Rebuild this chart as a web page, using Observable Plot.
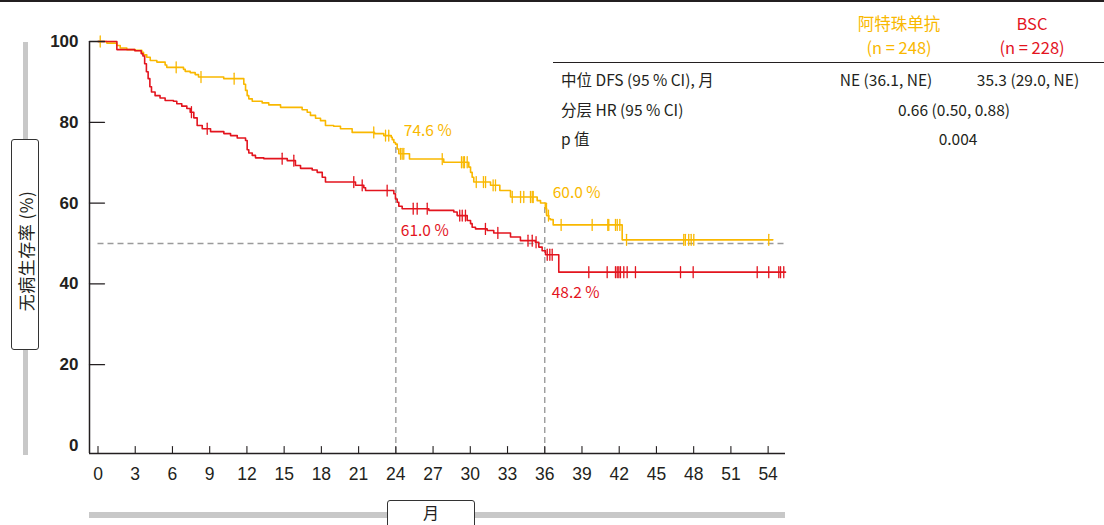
<!DOCTYPE html>
<html>
<head>
<meta charset="utf-8">
<script src="https://cdn.jsdelivr.net/npm/d3@7"></script>
<script src="https://cdn.jsdelivr.net/npm/@observablehq/plot@0.6"></script>
<style>
  body { margin: 0; background: #fff; }
  #wrap { position: relative; width: 1104px; height: 525px; overflow: hidden; font-family: "Noto Sans CJK SC", "Noto Sans", sans-serif; color: #231f20; }
  #wrap svg { position: absolute; left: 0; top: 0; }
  .abs { position: absolute; white-space: nowrap; line-height: 1; }
  .c { transform: translate(-50%, -50%); }
  .l { transform: translate(0, -50%); }
  .topline { left: 0; top: 0; width: 1104px; height: 2px; background: #231f20; }
  .vbar { left: 23px; top: 42px; width: 5px; height: 413px; background: #c8c8c8; }
  .ybox { left: 11px; top: 139px; width: 26px; height: 209px; border: 1px solid #333; border-radius: 3px; background: #fff; }
  .ylab { left: 25px; top: 251px; transform: translate(-50%, -50%) rotate(-90deg); font-size: 17px; letter-spacing: 0.5px; }
  .hbar { left: 89px; top: 512px; width: 696px; height: 6px; background: #c8c8c8; }
  .xbox { left: 387px; top: 500px; width: 86px; height: 40px; border: 1px solid #333; border-radius: 3px; background: #fff; }
  .xlab { left: 431px; top: 512px; font-size: 16px; }
  .tline { left: 553px; top: 62px; width: 551px; height: 1px; background: #231f20; }
  .t { font-size: 15.5px; }
  .h { font-size: 16.5px; }
</style>
</head>
<body>
<div id="wrap"></div>
<script>
// ---- data ----
const xTicks = [0, 3, 6, 9, 12, 15, 18, 21, 24, 27, 30, 33, 36, 39, 42, 45, 48, 51, 54];
const yTicks = [0, 20, 40, 60, 80, 100];

// Atezolizumab (orange) KM steps: time (months), DFS %
const aTimes = [0, 0.71, 1.51, 1.79, 2.32, 3.00, 3.53, 3.67, 3.93, 4.21, 4.74, 5.41, 5.54, 6.89, 7.03, 7.43, 7.83, 8.10, 10.13, 11.75, 11.89, 12.02, 12.15, 12.43, 13.23, 13.76, 14.71, 16.45, 16.86, 17.12, 17.53, 17.93, 18.33, 18.99, 19.54, 20.48, 22.28, 23.03, 23.63, 23.71, 23.84, 23.97, 24.11, 24.24, 25.10, 27.86, 29.88, 30.02, 30.15, 30.28, 31.63, 32.38, 33.24, 35.39, 35.66, 36.05, 36.15, 36.33, 36.46, 36.68, 42.24, 54.38];
const aSurv  = [100, 99.6, 99.0, 98.4, 98.0, 97.8, 97.3, 96.7, 96.1, 95.3, 94.9, 94.2, 93.6, 93.1, 92.6, 92.3, 91.8, 91.2, 90.8, 89.4, 87.9, 86.6, 85.8, 85.2, 84.8, 84.3, 83.7, 83.1, 82.5, 81.7, 81.0, 80.4, 79.2, 79.0, 78.4, 77.5, 77.2, 76.7, 76.3, 75.7, 75.0, 74.6, 73.4, 72.2, 70.9, 70.1, 68.9, 67.6, 66.4, 65.2, 64.4, 63.1, 61.5, 60.6, 60.0, 58.6, 56.9, 56.1, 55.9, 54.6, 50.9, 50.9];
const aCensor = [0.18, 6.30, 8.30, 10.97, 22.22, 23.17, 23.43, 24.38, 24.51, 24.64, 27.74, 29.29, 29.43, 29.53, 29.75, 30.48, 31.06, 31.23, 31.84, 32.03, 33.38, 34.05, 34.31, 34.85, 34.99, 35.07, 36.14, 36.30, 37.32, 39.82, 41.08, 41.16, 41.70, 41.84, 42.05, 42.59, 47.20, 47.33, 47.60, 47.80, 48.01, 54.05];

// BSC (red) KM steps
const bTimes = [0, 1.52, 2.96, 3.48, 3.62, 3.76, 3.90, 4.04, 4.18, 4.31, 4.60, 5.00, 5.41, 6.08, 6.35, 6.75, 7.16, 7.43, 7.72, 7.99, 8.40, 9.07, 10.14, 10.68, 11.22, 11.89, 12.02, 12.15, 12.43, 12.69, 13.36, 15.25, 15.91, 16.32, 17.26, 17.66, 18.07, 18.33, 20.75, 21.42, 21.56, 23.84, 23.97, 24.11, 24.24, 24.51, 26.66, 28.67, 28.94, 29.75, 30.02, 30.15, 30.42, 31.36, 31.89, 33.24, 34.04, 35.25, 35.52, 35.79, 36.06, 37.13, 55.40];
const bSurv  = [100, 98.0, 97.7, 97.0, 96.4, 94.5, 92.5, 90.8, 88.8, 87.5, 86.6, 86.0, 85.4, 85.2, 84.6, 84.0, 83.4, 82.5, 81.1, 79.2, 78.4, 77.7, 77.2, 76.7, 76.1, 75.5, 73.2, 72.4, 71.8, 71.2, 71.0, 70.5, 69.3, 68.6, 68.2, 67.6, 66.4, 65.2, 64.4, 63.8, 63.1, 62.3, 61.0, 60.2, 59.2, 58.6, 58.2, 57.8, 56.9, 55.7, 54.9, 54.0, 53.6, 53.2, 52.6, 51.6, 50.7, 50.3, 49.1, 48.2, 47.2, 42.9, 42.9];
const bCensor = [7.53, 8.80, 14.84, 15.78, 20.61, 21.29, 23.30, 25.40, 25.72, 26.53, 29.15, 29.35, 29.61, 31.22, 32.22, 34.65, 34.99, 35.30, 36.20, 36.41, 36.60, 39.55, 41.03, 41.70, 41.84, 41.97, 42.10, 42.37, 42.64, 43.31, 46.94, 47.96, 53.12, 54.05, 54.86, 55.00, 55.26];

// milestones
const mileMonths = [24, 36];
const mileA = [74.6, 60.0];
const mileB = [61.0, 48.2];
const medianLine = 50;

// table
const armNames = ["阿特珠单抗", "BSC"];
const armN = ["(n = 248)", "(n = 228)"];
const rowLabels = ["中位 DFS (95 % CI), 月", "分层  HR (95 % CI)", "p 值"];
const medianDFS = ["NE (36.1, NE)", "35.3 (29.0, NE)"];
const hrText = "0.66 (0.50, 0.88)";
const pText = "0.004";

const yTitle = "无病生存率 (%)";
const xTitle = "月";

// ---- styles ----
const ORANGE = "#F9B800";
const RED = "#E3141E";
const AX = "#231f20";
const xDomain = [-0.685, 55.4];
const yDomain = [-2, 100];

const toRows = (ts, ss) => ts.map((t, i) => ({t, s: ss[i]}));
const aRows = toRows(aTimes, aSurv);
const bRows = toRows(bTimes, bSurv);
const stepAt = (ts, ss, t) => { let v = ss[0]; for (let i = 0; i < ts.length; i++) if (ts[i] <= t) v = ss[i]; return v; };
const aCens = aCensor.map(t => ({t, s: stepAt(aTimes, aSurv, t)}));
const bCens = bCensor.map(t => ({t, s: stepAt(bTimes, bSurv, t)}));
const miles = mileMonths.map((t, i) => ({t, a: mileA[i], b: mileB[i]}));

const tickShape = { draw(ctx, l) { ctx.moveTo(0, 0); ctx.lineTo(0, -l); } };

const chart = Plot.plot({
  width: 1104,
  height: 525,
  marginLeft: 89,
  marginRight: 319,
  marginTop: 41,
  marginBottom: 72,
  x: { domain: xDomain, label: null },
  y: { domain: yDomain, label: null },
  style: { fontFamily: "'Liberation Sans', Arial, sans-serif", color: AX, background: "transparent", overflow: "visible" },
  marks: [
    Plot.ruleY([medianLine], { x1: () => 0, x2: () => xDomain[1], stroke: "#9b9b9b", strokeWidth: 1.4, strokeDasharray: "6,4" }),
    Plot.ruleX(miles, { x: "t", y1: () => yDomain[0], y2: "a", stroke: "#9b9b9b", strokeWidth: 1.4, strokeDasharray: "6,4" }),
    Plot.line(aRows, { x: "t", y: "s", curve: "step-after", stroke: ORANGE, strokeWidth: 1.6 }),
    Plot.line(bRows, { x: "t", y: "s", curve: "step-after", stroke: RED, strokeWidth: 1.6 }),
    Plot.vector(aCens, { x: "t", y: "s", length: 11, anchor: "middle", shape: tickShape, stroke: ORANGE, strokeWidth: 1.3 }),
    Plot.vector(bCens, { x: "t", y: "s", length: 11, anchor: "middle", shape: tickShape, stroke: RED, strokeWidth: 1.3 }),
    Plot.ruleX([xDomain[0]], { y1: () => yDomain[0], y2: () => yDomain[1], stroke: AX, strokeWidth: 1.5 }),
    Plot.ruleY([yDomain[0]], { x1: () => xDomain[0], x2: () => xDomain[1], stroke: AX, strokeWidth: 1.5 }),
    Plot.vector(yTicks.filter(v => v > 0), { x: () => xDomain[0], y: d => d, length: 15, rotate: 90, anchor: "start", shape: tickShape, stroke: AX, strokeWidth: 1.3 }),
    Plot.vector(xTicks, { x: d => d, y: () => yDomain[0], length: 7, rotate: 0, anchor: "start", shape: tickShape, stroke: AX, strokeWidth: 1.1 }),
    Plot.axisY(yTicks, { anchor: "left", tickSize: 0, tickPadding: 11, fontSize: 17, fontWeight: "bold", fill: AX }),
    Plot.axisX(xTicks, { anchor: "bottom", tickSize: 0, tickPadding: 14, fontSize: 17.5, fill: AX }),
    Plot.text([miles[0]], { x: "t", y: "a", text: d => d.a.toFixed(1) + " %", dx: 8, dy: -13, textAnchor: "start", fill: ORANGE, fontSize: 15.5, fontFamily: "'Noto Sans CJK SC', sans-serif" }),
    Plot.text([miles[1]], { x: "t", y: "a", text: d => d.a.toFixed(1) + " %", dx: 8, dy: -10, textAnchor: "start", fill: ORANGE, fontSize: 15.5, fontFamily: "'Noto Sans CJK SC', sans-serif" }),
    Plot.text([miles[0]], { x: "t", y: "b", text: d => d.b.toFixed(1) + " %", dx: 5, dy: 32, textAnchor: "start", fill: RED, fontSize: 15.5, fontFamily: "'Noto Sans CJK SC', sans-serif" }),
    Plot.text([miles[1]], { x: "t", y: "b", text: d => d.b.toFixed(1) + " %", dx: 7, dy: 42, textAnchor: "start", fill: RED, fontSize: 15.5, fontFamily: "'Noto Sans CJK SC', sans-serif" })
  ]
});

const wrap = document.getElementById("wrap");
wrap.appendChild(chart);

function add(cls, text, left, top, color) {
  const d = document.createElement("div");
  d.className = "abs " + cls;
  if (text != null) d.textContent = text;
  if (left != null) d.style.left = left + "px";
  if (top != null) d.style.top = top + "px";
  if (color) d.style.color = color;
  wrap.appendChild(d);
  return d;
}
add("topline");
add("vbar");
add("ybox");
add("ylab", yTitle);
add("hbar");
add("xbox");
add("xlab c", xTitle);
const colX = [899, 1032];
const colC = [ORANGE, RED];
armNames.forEach((n, i) => add("h c", n, colX[i], 23, colC[i]));
armN.forEach((n, i) => add("h c", n, colX[i], 47, colC[i]));
add("tline");
const rowY = [80, 110, 139];
rowLabels.forEach((r, i) => add("t l", r, 561, rowY[i]));
add("t c", medianDFS[0], 886, rowY[0]);
add("t c", medianDFS[1], 1028, rowY[0]);
add("t c", hrText, 954, rowY[1]);
add("t c", pText, 958, rowY[2]);
</script>
</body>
</html>
